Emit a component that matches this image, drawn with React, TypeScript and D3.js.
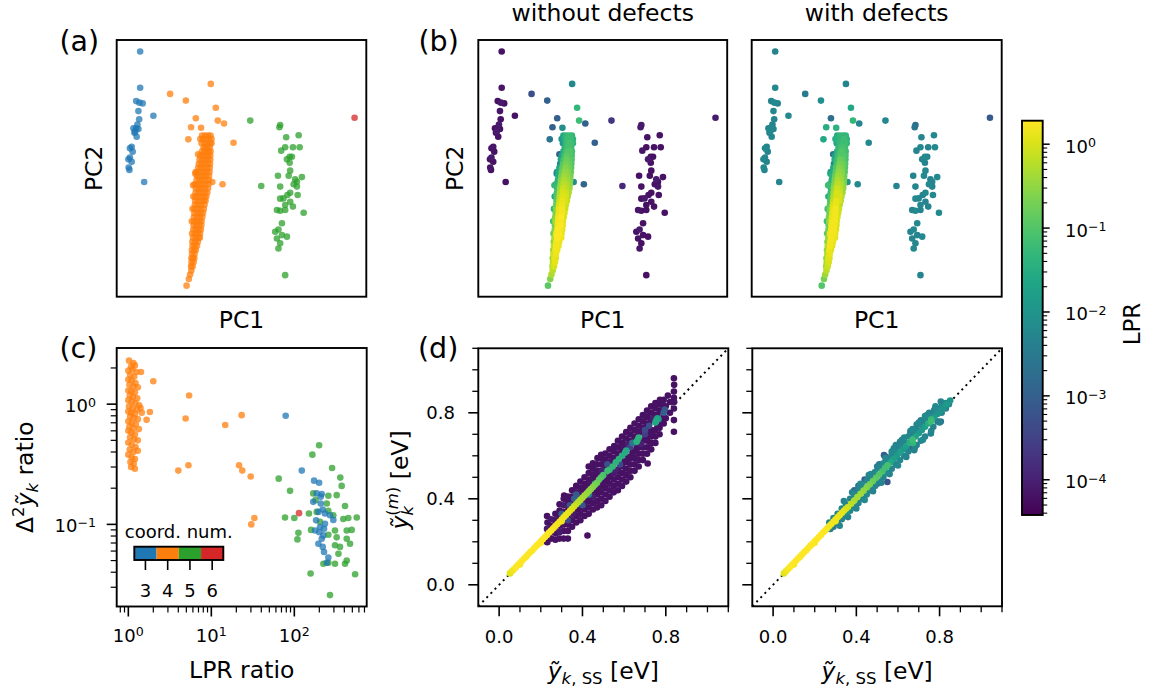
import React from "react";
import * as d3 from "d3";

// ---------------- DATA ----------------
// PCA map: [PC1, PC2, log10 LPR (without defects), log10 LPR (with defects)]
const pcCN3: number[][] = [
  [9.4, 95.5, -4.2, -2.3], [9.4, 81.4, -4.15, -2.25], [7.8, 76.2, -4.2, -2.3], [9.1, 75.6, -4.1, -2.2],
  [10.4, 75.3, -4.2, -2.3], [8.7, 72.3, -4.15, -2.25], [9.0, 69.1, -4.2, -2.3], [8.3, 67.1, -4.1, -2.3],
  [14.7, 70.5, -4.2, -2.2], [6.7, 65.6, -4.2, -2.3], [7.8, 65.6, -4.15, -2.25], [8.7, 65.3, -4.2, -2.3],
  [7.4, 64.3, -4.1, -2.2], [7.1, 63.9, -4.2, -2.3], [8.0, 62.3, -4.2, -2.25], [6.0, 58.4, -4.15, -2.3],
  [5.3, 57.8, -4.2, -2.2], [6.4, 56.5, -4.2, -2.3], [5.3, 54.2, -4.1, -2.3], [4.7, 53.5, -4.2, -2.25],
  [6.0, 52.6, -4.2, -2.3], [4.8, 50.3, -4.15, -2.2], [5.1, 49.4, -4.2, -2.3], [11.0, 44.7, -4.2, -2.3],
];
const pcCN4Scatter: number[][] = [
  [21.4, 79.0, -3.3, -2.5], [27.7, 76.4, -3.0, -2.1], [37.7, 82.9, -2.2, -2.3], [39.7, 73.6, -1.3, -1.6],
  [31.7, 69.5, -3.0, -2.7], [40.5, 68.6, -1.2, -1.3], [43.0, 67.5, -3.0, -2.3], [29.8, 66.0, -3.0, -1.5],
  [33.8, 65.8, -2.1, -1.4], [46.8, 60.0, -3.0, -2.2], [42.4, 43.8, -2.9, -2.2], [28.7, 61.3, -2.6, -1.6],
  [32.6, 55.5, -3.0, -2.6], [38.3, 44.7, -2.2, -2.0], [31.5, 47.9, -2.0, -1.6], [30.6, 43.4, -1.3, -1.2],
];
const pcCN4Wedge: number[][] = [
  [28.0, 4.3, -0.9, -1.0], [28.9, 6.9, -0.6, -0.7], [29.4, 8.6, -0.3, -0.4], [29.9, 10.2, -0.2, -0.2],
  [29.8, 11.8, -0.3, -0.4], [30.4, 11.8, 0.0, -0.1],
  [30.0, 13.4, -0.2, -0.3], [30.8, 13.4, 0.1, 0.0],
  [29.9, 15, -0.5, -0.6], [30.6, 15, 0.1, 0.05], [31.1, 15, 0.0, 0.0],
  [30.2, 16.6, -0.1, -0.2], [31.2, 16.6, 0.15, 0.1],
  [30.1, 18.2, -0.4, -0.5], [31.0, 18.2, 0.2, 0.15], [31.7, 18.2, 0.1, 0.05],
  [30.4, 19.8, -0.2, -0.3], [31.3, 19.8, 0.2, 0.2], [32.2, 19.8, 0.1, 0.05],
  [30.3, 21.4, -0.5, -0.6], [31.4, 21.4, 0.2, 0.2], [32.5, 21.4, 0.15, 0.1],
  [30.6, 23, -0.3, -0.4], [31.7, 23, 0.25, 0.2], [32.9, 23, 0.2, 0.15], [33.3, 23, 0.05, 0.0],
  [30.2, 24.6, -0.8, -0.9], [31.3, 24.6, 0.2, 0.15], [32.4, 24.6, 0.25, 0.2], [33.4, 24.6, 0.1, 0.1],
  [30.7, 26.2, -0.6, -0.7], [31.8, 26.2, 0.25, 0.2], [32.9, 26.2, 0.2, 0.2], [33.7, 26.2, 0.05, 0.0],
  [30.8, 27.8, -0.7, -0.8], [31.9, 27.8, 0.2, 0.2], [33.0, 27.8, 0.25, 0.2], [33.9, 27.8, 0.1, 0.0],
  [30.1, 29.4, -1.1, -1.2], [31.0, 29.4, -0.4, -0.5], [32.1, 29.4, 0.2, 0.15], [33.2, 29.4, 0.2, 0.2], [34.0, 29.4, 0.05, 0.0],
  [30.9, 31, -0.6, -0.7], [32.1, 31, 0.15, 0.1], [33.3, 31, 0.25, 0.2], [34.3, 31, 0.0, 0.0],
  [31.1, 32.6, -0.7, -0.8], [32.3, 32.6, 0.1, 0.1], [33.5, 32.6, 0.2, 0.2], [34.6, 32.6, 0.0, -0.1],
  [30.4, 34.2, -1.3, -1.2], [31.2, 34.2, -0.6, -0.7], [32.4, 34.2, 0.1, 0.05], [33.6, 34.2, 0.2, 0.2], [34.9, 34.2, -0.1, -0.1],
  [31.3, 35.8, -0.8, -0.9], [32.5, 35.8, 0.0, 0.0], [33.7, 35.8, 0.15, 0.1], [35.2, 35.8, -0.1, -0.2],
  [31.4, 37.4, -0.9, -1.0], [32.6, 37.4, -0.1, -0.2], [33.8, 37.4, 0.1, 0.1], [35.0, 37.4, 0.0, 0.0], [35.6, 37.4, -0.2, -0.3],
  [30.7, 39, -1.6, -1.5], [31.5, 39, -1.0, -1.1], [32.7, 39, -0.2, -0.3], [33.9, 39, 0.05, 0.0], [35.1, 39, 0.0, 0.0], [35.9, 39, -0.3, -0.3],
  [31.6, 40.6, -1.1, -1.2], [32.8, 40.6, -0.3, -0.4], [34.0, 40.6, 0.0, 0.0], [35.2, 40.6, -0.1, -0.1], [36.3, 40.6, -0.3, -0.4],
  [31.7, 42.2, -1.2, -1.3], [32.9, 42.2, -0.4, -0.5], [34.1, 42.2, -0.1, -0.1], [35.3, 42.2, -0.2, -0.2], [36.6, 42.2, -0.4, -0.5],
  [31.2, 43.8, -1.8, -1.6], [31.9, 43.8, -1.3, -1.3], [33.1, 43.8, -0.5, -0.6], [34.3, 43.8, -0.2, -0.2], [35.5, 43.8, -0.3, -0.3], [36.8, 43.8, -0.5, -0.6],
  [32.0, 45.4, -1.4, -1.4], [33.2, 45.4, -0.6, -0.7], [34.4, 45.4, -0.3, -0.3], [35.6, 45.4, -0.4, -0.4], [36.9, 45.4, -0.6, -0.7],
  [32.2, 47, -1.5, -1.4], [33.4, 47, -0.7, -0.8], [34.6, 47, -0.4, -0.4], [35.8, 47, -0.5, -0.5], [37.0, 47, -0.7, -0.8],
  [31.6, 48.6, -2.0, -1.8], [32.4, 48.6, -1.5, -1.5], [33.6, 48.6, -0.8, -0.9], [34.8, 48.6, -0.5, -0.5], [36.0, 48.6, -0.6, -0.6], [37.2, 48.6, -0.8, -0.9],
  [32.6, 50.2, -1.6, -1.5], [33.8, 50.2, -0.9, -1.0], [35.0, 50.2, -0.6, -0.6], [36.2, 50.2, -0.7, -0.7], [37.3, 50.2, -0.9, -1.0],
  [32.9, 51.8, -2.2, -2.3], [34.0, 51.8, -1.0, -1.1], [35.2, 51.8, -0.7, -0.7], [36.4, 51.8, -0.8, -0.8], [37.4, 51.8, -1.0, -1.0],
  [33.2, 53.4, -1.7, -1.6], [34.3, 53.4, -1.1, -1.2], [35.4, 53.4, -0.8, -0.8], [36.5, 53.4, -0.9, -0.9], [37.5, 53.4, -1.0, -1.1],
  [33.5, 55, -1.8, -1.7], [34.6, 55, -1.2, -1.2], [35.6, 55, -0.9, -1.0], [36.6, 55, -1.0, -1.0], [37.5, 55, -1.1, -1.1],
  [34.2, 56.6, -1.6, -1.5], [35.1, 56.6, -1.2, -1.2], [36.0, 56.6, -1.0, -1.0], [36.9, 56.6, -1.0, -1.1], [37.6, 56.6, -1.2, -1.2],
  [34.8, 58.2, -1.5, -1.4], [35.6, 58.2, -1.2, -1.2], [36.4, 58.2, -1.1, -1.1], [37.3, 58.2, -1.2, -1.2],
  [34.0, 59.8, -1.9, -1.6], [35.2, 59.8, -1.3, -1.3], [36.3, 59.8, -1.1, -1.2], [37.4, 59.8, -1.2, -1.2], [38.0, 59.8, -1.4, -1.4],
  [33.5, 61.4, -2.0, -1.5], [34.6, 61.4, -1.5, -1.4], [35.8, 61.4, -1.2, -1.3], [37.0, 61.4, -1.2, -1.2], [38.0, 61.4, -1.4, -1.4],
  [34.2, 62.8, -1.6, -1.5], [35.4, 62.8, -1.3, -1.3], [36.6, 62.8, -1.2, -1.3], [37.6, 62.8, -1.3, -1.3],
];
const pcCN5: number[][] = [
  [53.5, 68.6, -3.7, -2.2], [57.9, 43.1, -3.9, -2.3], [65.5, 66.9, -4.1, -2.7], [65.2, 66.0, -4.1, -2.6],
  [72.9, 62.9, -4.2, -2.2], [67.9, 62.1, -4.2, -2.3], [67.5, 58.2, -4.2, -2.2], [70.6, 58.2, -4.2, -2.3],
  [73.3, 58.2, -4.2, -2.2], [65.9, 56.9, -4.15, -2.3], [69.3, 54.5, -4.2, -2.2], [70.2, 54.5, -4.2, -2.3],
  [68.2, 53.5, -4.1, -2.25], [69.3, 52.2, -4.2, -2.3], [69.5, 49.1, -4.2, -2.2], [64.6, 47.1, -4.2, -2.3],
  [68.9, 47.1, -4.2, -2.2], [71.5, 45.7, -4.1, -2.3], [74.2, 46.6, -4.2, -2.2], [72.2, 44.8, -4.2, -2.3],
  [65.5, 42.9, -4.2, -2.25], [70.9, 43.8, -4.2, -2.2], [72.2, 42.9, -4.15, -2.3], [69.5, 40.5, -4.2, -2.2],
  [68.4, 39.6, -4.2, -2.3], [72.5, 39.6, -4.2, -2.2], [66.8, 38.3, -4.1, -2.3], [65.5, 38.2, -4.2, -2.2],
  [69.5, 37.0, -4.2, -2.3], [67.5, 35.7, -4.2, -2.2], [70.6, 35.1, -4.2, -2.3], [74.9, 32.7, -4.2, -2.2],
  [64.2, 33.8, -4.15, -2.3], [65.5, 33.5, -4.2, -2.2], [67.5, 33.8, -4.2, -2.3], [66.2, 28.6, -4.2, -2.25],
  [63.5, 25.3, -4.2, -2.3], [64.8, 26.2, -4.1, -2.2], [66.2, 24.0, -4.2, -2.3], [68.2, 23.4, -4.2, -2.2],
  [64.2, 22.7, -4.2, -2.3], [65.5, 20.8, -4.2, -2.25], [64.8, 18.8, -4.15, -2.2], [67.5, 8.4, -4.2, -2.3],
];
const pcCN6: number[][] = [[95.3, 69.7, -4.1, -3.1]];

// Panel (c): [LPR ratio, Δ²ỹ ratio]
const ratioCN3: number[][] = [
  [78.7, 0.80], [123, 0.28], [173, 0.231], [199, 0.222], [186, 0.181], [214, 0.179], [208, 0.17], [169, 0.154],
  [208, 0.149], [220, 0.133], [195, 0.127], [234, 0.123], [183, 0.108], [204, 0.095], [228, 0.092], [200, 0.086],
  [224, 0.081], [214, 0.076], [195, 0.069], [220, 0.065], [228, 0.059], [257, 0.053], [246, 0.048], [295, 0.109],
  [269, 0.119], [178, 0.089], [234, 0.101],
];
const ratioCN4: number[][] = [
  [2.0, 1.55], [5.4, 1.18], [4.9, 0.76], [1.82, 0.86], [1.66, 0.74], [14.7, 0.67], [23.2, 0.81], [4.0, 0.28],
  [5.3, 0.31], [21.6, 0.31], [23.6, 0.28], [29.8, 0.25], [30.3, 0.10], [33, 0.113],
  [1.02, 2.3], [1.15, 2.2], [1.08, 2.05], [1.2, 2.1], [1.0, 1.9], [1.12, 1.95], [1.25, 1.85], [1.42, 1.85],
  [1.05, 1.75], [1.18, 1.7], [1.0, 1.6], [1.1, 1.58], [1.22, 1.5], [1.03, 1.45], [1.15, 1.4], [1.3, 1.38],
  [1.0, 1.3], [1.09, 1.28], [1.2, 1.25], [1.04, 1.18], [1.14, 1.15], [1.28, 1.12], [1.0, 1.08], [1.1, 1.05],
  [1.22, 1.02], [1.35, 0.98], [1.02, 0.96], [1.13, 0.93], [1.27, 0.9], [1.0, 0.87], [1.08, 0.85], [1.2, 0.83],
  [1.4, 0.93], [1.05, 0.79], [1.16, 0.77], [1.3, 0.75], [1.0, 0.72], [1.1, 0.7], [1.23, 0.68], [1.03, 0.65],
  [1.15, 0.63], [1.34, 0.62], [1.0, 0.6], [1.09, 0.58], [1.2, 0.56], [1.05, 0.53], [1.17, 0.51], [1.3, 0.5],
  [1.0, 0.48], [1.1, 0.46], [1.22, 0.44], [1.04, 0.42], [1.15, 0.4], [1.3, 0.41], [1.0, 0.38], [1.1, 0.36],
  [1.2, 0.35], [1.06, 0.33], [1.16, 0.32], [1.08, 0.3], [1.2, 0.29], [1.45, 0.85],
];
const ratioCN5: number[][] = [
  [64.9, 0.24], [88.8, 0.19], [165, 0.38], [199, 0.455], [285, 0.294], [358, 0.245], [372, 0.209], [169, 0.181],
  [180, 0.159], [257, 0.173], [324, 0.175], [408, 0.142], [77.3, 0.114], [100, 0.113], [150, 0.123], [186, 0.127],
  [257, 0.13], [389, 0.111], [447, 0.113], [565, 0.114], [112, 0.085], [159, 0.09], [109, 0.075], [309, 0.089],
  [428, 0.089], [491, 0.09], [324, 0.078], [428, 0.076], [309, 0.067], [355, 0.065], [340, 0.057], [257, 0.048],
  [224, 0.047], [309, 0.047], [408, 0.047], [428, 0.05], [540, 0.0385], [157, 0.039], [269, 0.0258], [469, 0.069],
  [246, 0.149], [295, 0.119], [204, 0.105], [257, 0.082],
];
const ratioCN6: number[][] = [[114, 0.124]];

// Panel (d): [ỹ_k,SS (eV), ỹ_k^(m) (eV), log10 LPR]
const dStreak: number[][] = [
  [0.052, 0.053, 0.05], [0.06, 0.062, 0.15], [0.07, 0.071, 0.2], [0.08, 0.081, 0.25], [0.09, 0.092, 0.25],
  [0.10, 0.101, 0.25], [0.11, 0.112, 0.28], [0.12, 0.122, 0.28], [0.13, 0.131, 0.25], [0.14, 0.142, 0.28],
  [0.15, 0.152, 0.28], [0.16, 0.161, 0.25], [0.17, 0.172, 0.28], [0.18, 0.182, 0.28], [0.19, 0.191, 0.25],
  [0.20, 0.202, 0.28], [0.21, 0.212, 0.25], [0.22, 0.222, 0.28], [0.23, 0.232, 0.25], [0.24, 0.243, 0.28],
  [0.25, 0.252, 0.25], [0.26, 0.263, 0.22], [0.27, 0.273, 0.22], [0.28, 0.283, 0.2], [0.29, 0.293, 0.2],
  [0.30, 0.303, 0.18], [0.31, 0.314, 0.15], [0.32, 0.324, 0.12], [0.33, 0.334, 0.1], [0.34, 0.344, 0.05],
  [0.35, 0.354, 0.0], [0.10, 0.095, 0.2], [0.20, 0.196, 0.22], [0.30, 0.296, 0.1],
];
const dNoDefects: number[][] = [
  [0.23, 0.20, -4.2], [0.235, 0.23, -4.2], [0.23, 0.26, -4.1], [0.232, 0.29, -4.2], [0.23, 0.32, -4.2],
  [0.25, 0.215, -4.2], [0.252, 0.245, -4.2], [0.25, 0.275, -4.2], [0.25, 0.305, -4.1],
  [0.27, 0.21, -4.2], [0.272, 0.24, -4.2], [0.27, 0.27, -4.2], [0.268, 0.30, -4.2], [0.27, 0.33, -4.2],
  [0.29, 0.215, -4.2], [0.29, 0.245, -4.1], [0.292, 0.275, -4.2], [0.29, 0.315, -4.2], [0.29, 0.345, -4.2], [0.29, 0.375, -4.2],
  [0.31, 0.215, -4.2], [0.31, 0.25, -4.2], [0.312, 0.28, -4.2], [0.31, 0.34, -4.2], [0.31, 0.37, -4.1], [0.31, 0.40, -4.2], [0.312, 0.415, -4.2],
  [0.33, 0.215, -4.2], [0.33, 0.25, -4.2], [0.33, 0.28, -4.2], [0.33, 0.31, -4.2], [0.332, 0.36, -4.2], [0.33, 0.39, -4.2], [0.33, 0.41, -4.2],
  [0.35, 0.27, -4.2], [0.35, 0.30, -4.2], [0.352, 0.33, -4.1], [0.35, 0.38, -4.2], [0.35, 0.41, -4.2], [0.35, 0.44, -4.2],
  [0.37, 0.29, -4.2], [0.37, 0.32, -4.2], [0.37, 0.35, -4.2], [0.372, 0.40, -4.2], [0.37, 0.43, -4.2], [0.37, 0.46, -4.2],
  [0.39, 0.30, -4.2], [0.39, 0.33, -4.2], [0.39, 0.36, -4.2], [0.39, 0.42, -4.1], [0.392, 0.45, -4.2], [0.39, 0.48, -4.2],
  [0.41, 0.32, -4.2], [0.41, 0.35, -4.2], [0.41, 0.38, -4.2], [0.41, 0.44, -4.2], [0.41, 0.47, -4.2], [0.41, 0.50, -4.2],
  [0.43, 0.33, -4.2], [0.43, 0.36, -4.2], [0.432, 0.39, -4.2], [0.43, 0.46, -4.2], [0.43, 0.49, -4.2], [0.43, 0.52, -4.2], [0.43, 0.55, -4.2],
  [0.45, 0.35, -4.2], [0.45, 0.38, -4.2], [0.45, 0.41, -4.1], [0.452, 0.48, -4.2], [0.45, 0.51, -4.2], [0.45, 0.54, -4.2], [0.45, 0.565, -4.2],
  [0.47, 0.36, -4.2], [0.47, 0.39, -4.2], [0.47, 0.42, -4.2], [0.47, 0.44, -4.2], [0.47, 0.50, -4.2], [0.47, 0.53, -4.2], [0.47, 0.56, -4.2], [0.472, 0.59, -4.2],
  [0.49, 0.37, -4.2], [0.49, 0.40, -4.2], [0.49, 0.43, -4.2], [0.49, 0.46, -4.2], [0.49, 0.53, -4.1], [0.49, 0.56, -4.2], [0.49, 0.59, -4.2], [0.49, 0.605, -4.2],
  [0.51, 0.39, -4.2], [0.51, 0.42, -4.2], [0.51, 0.45, -4.2], [0.51, 0.48, -4.2], [0.51, 0.55, -4.2], [0.51, 0.58, -4.2], [0.51, 0.61, -4.2],
  [0.53, 0.41, -4.2], [0.53, 0.44, -4.2], [0.53, 0.47, -4.2], [0.53, 0.50, -4.2], [0.53, 0.57, -4.2], [0.53, 0.60, -4.2], [0.53, 0.63, -4.2],
  [0.55, 0.43, -4.2], [0.55, 0.46, -4.2], [0.55, 0.49, -4.2], [0.55, 0.52, -4.1], [0.55, 0.59, -4.2], [0.55, 0.62, -4.2], [0.552, 0.645, -4.2],
  [0.57, 0.44, -4.2], [0.57, 0.47, -4.2], [0.57, 0.50, -4.2], [0.57, 0.53, -4.2], [0.57, 0.61, -4.2], [0.57, 0.64, -4.2], [0.57, 0.67, -4.2],
  [0.59, 0.46, -4.2], [0.59, 0.49, -4.2], [0.59, 0.52, -4.2], [0.59, 0.55, -4.2], [0.59, 0.63, -4.2], [0.59, 0.66, -4.2], [0.59, 0.69, -4.2],
  [0.61, 0.48, -4.2], [0.61, 0.51, -4.2], [0.61, 0.54, -4.2], [0.61, 0.57, -4.2], [0.61, 0.65, -4.2], [0.61, 0.68, -4.2], [0.61, 0.71, -4.2],
  [0.63, 0.50, -4.2], [0.63, 0.53, -4.2], [0.63, 0.56, -4.2], [0.63, 0.59, -4.2], [0.63, 0.67, -4.2], [0.63, 0.70, -4.2], [0.63, 0.73, -4.2],
  [0.65, 0.53, -4.2], [0.65, 0.56, -4.2], [0.65, 0.59, -4.2], [0.65, 0.62, -4.2], [0.65, 0.69, -4.2], [0.65, 0.72, -4.2], [0.65, 0.75, -4.2],
  [0.67, 0.55, -4.2], [0.67, 0.58, -4.2], [0.67, 0.61, -4.2], [0.67, 0.64, -4.2], [0.67, 0.71, -4.2], [0.67, 0.74, -4.2], [0.67, 0.77, -4.2],
  [0.69, 0.58, -4.2], [0.69, 0.61, -4.2], [0.69, 0.64, -4.2], [0.69, 0.67, -4.2], [0.69, 0.73, -4.2], [0.69, 0.76, -4.2], [0.69, 0.79, -4.2],
  [0.713, 0.564, -4.2], [0.71, 0.61, -4.2], [0.71, 0.64, -4.2], [0.71, 0.67, -4.2], [0.71, 0.70, -4.2], [0.71, 0.75, -4.2], [0.71, 0.78, -4.2], [0.71, 0.81, -4.2],
  [0.73, 0.63, -4.2], [0.73, 0.66, -4.2], [0.73, 0.69, -4.2], [0.73, 0.72, -4.2], [0.73, 0.77, -4.2], [0.73, 0.80, -4.2], [0.73, 0.83, -4.2],
  [0.75, 0.66, -4.2], [0.75, 0.69, -4.2], [0.75, 0.72, -4.2], [0.75, 0.79, -4.2], [0.75, 0.82, -4.2], [0.75, 0.845, -4.2],
  [0.77, 0.70, -4.2], [0.77, 0.73, -4.2], [0.77, 0.81, -4.2], [0.77, 0.84, -4.2], [0.772, 0.86, -4.2],
  [0.79, 0.75, -4.2], [0.79, 0.78, -4.2], [0.79, 0.83, -4.2], [0.79, 0.86, -4.2],
  [0.839, 0.712, -4.2], [0.839, 0.766, -4.2], [0.839, 0.82, -4.2], [0.84, 0.85, -4.2], [0.839, 0.87, -4.2], [0.839, 0.899, -4.2], [0.84, 0.93, -4.2], [0.839, 0.961, -4.2],
  [0.424, 0.229, -4.2], [0.231, 0.198, -4.2],
  [0.36, 0.335, -4.2], [0.36, 0.39, -4.2], [0.38, 0.355, -4.2], [0.38, 0.41, -4.0], [0.40, 0.375, -4.2], [0.40, 0.43, -4.2],
  [0.42, 0.395, -4.2], [0.42, 0.45, -4.2], [0.44, 0.415, -4.0], [0.44, 0.47, -4.2], [0.46, 0.435, -4.2], [0.46, 0.49, -4.2],
  [0.48, 0.455, -4.2], [0.48, 0.51, -4.2], [0.50, 0.475, -4.2], [0.50, 0.53, -4.0], [0.52, 0.495, -4.2], [0.52, 0.55, -4.2],
  [0.54, 0.515, -4.2], [0.54, 0.57, -4.2], [0.56, 0.535, -4.0], [0.56, 0.59, -4.2], [0.58, 0.555, -4.2], [0.58, 0.61, -4.2],
  [0.60, 0.575, -4.2], [0.60, 0.63, -4.2], [0.62, 0.595, -4.2], [0.62, 0.65, -4.0], [0.64, 0.615, -4.2], [0.64, 0.67, -4.2],
  [0.66, 0.635, -4.2], [0.66, 0.69, -4.2], [0.68, 0.655, -4.0], [0.68, 0.71, -4.2], [0.70, 0.675, -4.2], [0.70, 0.73, -4.2],
  [0.72, 0.695, -4.2], [0.72, 0.75, -4.2], [0.74, 0.715, -4.2], [0.74, 0.77, -4.0], [0.76, 0.735, -4.2], [0.76, 0.79, -4.2],
  [0.78, 0.755, -4.2], [0.78, 0.81, -4.2], [0.80, 0.775, -4.2], [0.80, 0.83, -4.2], [0.82, 0.80, -4.2], [0.82, 0.85, -4.2], [0.81, 0.88, -4.2],
  [0.36, 0.365, -0.1], [0.37, 0.375, -0.2], [0.38, 0.385, -0.25], [0.39, 0.395, -0.3], [0.40, 0.405, -0.35],
  [0.41, 0.415, -0.4], [0.42, 0.425, -0.45], [0.43, 0.435, -0.5], [0.44, 0.445, -0.55], [0.45, 0.455, -0.6],
  [0.46, 0.465, -0.7], [0.47, 0.475, -0.8], [0.48, 0.49, -0.9], [0.49, 0.50, -1.0], [0.50, 0.51, -1.1],
  [0.52, 0.53, -1.2], [0.53, 0.535, -1.3], [0.545, 0.55, -1.3], [0.56, 0.57, -1.4], [0.575, 0.585, -1.4],
  [0.59, 0.60, -1.5], [0.605, 0.615, -1.5], [0.61, 0.625, -1.6], [0.66, 0.665, -1.4], [0.665, 0.675, -1.5],
  [0.67, 0.685, -1.4], [0.75, 0.755, -1.6], [0.755, 0.765, -1.6], [0.76, 0.775, -1.7], [0.765, 0.77, -2.0],
  [0.79, 0.80, -3.0], [0.795, 0.815, -3.2],
  [0.37, 0.42, -3.1], [0.36, 0.40, -3.0], [0.40, 0.37, -3.2], [0.52, 0.56, -3.3], [0.58, 0.56, -3.4],
  [0.63, 0.64, -3.5], [0.70, 0.72, -3.4], [0.72, 0.74, -3.3], [0.64, 0.66, -2.6], [0.70, 0.70, -3.6],
  [0.43, 0.42, -2.4], [0.46, 0.47, -2.0], [0.30, 0.33, -3.0], [0.34, 0.37, -3.2], [0.33, 0.30, -3.4],
];
const dWithDefects: number[][] = [
  [0.27, 0.29, -2.3], [0.275, 0.26, -2.4], [0.29, 0.31, -2.2], [0.29, 0.27, -2.5], [0.31, 0.33, -2.3], [0.31, 0.285, -2.4],
  [0.33, 0.355, -2.2], [0.33, 0.305, -2.3], [0.35, 0.375, -2.4], [0.35, 0.32, -2.3], [0.352, 0.34, -2.0],
  [0.37, 0.40, -2.3], [0.37, 0.345, -2.2], [0.39, 0.42, -2.2], [0.39, 0.36, -2.4], [0.39, 0.44, -2.9],
  [0.41, 0.445, -2.3], [0.41, 0.38, -2.3], [0.41, 0.46, -2.6], [0.43, 0.46, -2.2], [0.43, 0.40, -2.4],
  [0.45, 0.485, -2.3], [0.45, 0.42, -2.2], [0.47, 0.50, -2.4], [0.47, 0.44, -2.3], [0.47, 0.515, -2.2],
  [0.49, 0.525, -2.2], [0.49, 0.46, -2.3], [0.51, 0.545, -2.3], [0.51, 0.48, -2.4], [0.51, 0.56, -2.5],
  [0.53, 0.565, -2.2], [0.533, 0.603, -3.0], [0.53, 0.50, -2.3], [0.549, 0.478, -3.2], [0.55, 0.585, -2.4],
  [0.55, 0.52, -2.2], [0.541, 0.595, -3.1], [0.57, 0.605, -2.3], [0.57, 0.54, -2.3], [0.57, 0.62, -2.2],
  [0.59, 0.625, -2.2], [0.59, 0.56, -2.4], [0.59, 0.65, -2.3], [0.61, 0.645, -2.3], [0.61, 0.58, -2.2], [0.61, 0.665, -2.4],
  [0.63, 0.665, -2.4], [0.63, 0.60, -2.3], [0.63, 0.685, -2.2], [0.65, 0.69, -2.2], [0.65, 0.62, -2.3], [0.66, 0.705, -2.3],
  [0.67, 0.705, -2.3], [0.678, 0.626, -2.4], [0.67, 0.725, -2.2], [0.69, 0.72, -2.4], [0.69, 0.65, -2.3], [0.69, 0.745, -2.3],
  [0.71, 0.745, -2.2], [0.71, 0.67, -2.2], [0.71, 0.765, -2.4], [0.73, 0.765, -2.3], [0.73, 0.69, -2.3], [0.73, 0.785, -2.2],
  [0.75, 0.785, -2.2], [0.758, 0.704, -2.4], [0.75, 0.80, -2.3], [0.77, 0.79, -2.4], [0.774, 0.813, -2.3], [0.77, 0.735, -2.3],
  [0.79, 0.82, -2.2], [0.79, 0.76, -2.4], [0.806, 0.852, -2.3], [0.806, 0.759, -2.5], [0.81, 0.80, -2.3], [0.81, 0.83, -2.2],
  [0.83, 0.845, -2.2], [0.83, 0.82, -2.4], [0.851, 0.857, -2.0], [0.845, 0.84, -2.2],
  [0.40, 0.42, -3.0], [0.45, 0.44, -3.1],
  [0.32, 0.275, -2.3], [0.36, 0.315, -2.4], [0.40, 0.355, -2.3], [0.44, 0.395, -2.2], [0.48, 0.435, -2.4], [0.52, 0.475, -2.3],
  [0.56, 0.515, -2.3], [0.60, 0.555, -2.2], [0.64, 0.595, -2.4], [0.68, 0.635, -2.3], [0.72, 0.675, -2.2], [0.76, 0.715, -2.3], [0.80, 0.755, -2.4],
  [0.34, 0.39, -2.3], [0.38, 0.43, -2.4], [0.42, 0.47, -2.2], [0.46, 0.51, -2.3], [0.50, 0.55, -2.4], [0.54, 0.59, -2.2],
  [0.58, 0.635, -2.3], [0.62, 0.675, -2.3], [0.66, 0.715, -2.4], [0.70, 0.755, -2.2], [0.74, 0.79, -2.3], [0.78, 0.83, -2.2],
  [0.44, 0.49, -3.0], [0.58, 0.62, -2.9], [0.66, 0.64, -2.9], [0.72, 0.76, -3.0], [0.50, 0.47, -2.9],
  [0.36, 0.362, -0.1], [0.375, 0.377, -0.2], [0.39, 0.392, -0.3], [0.405, 0.408, -0.35], [0.42, 0.423, -0.4],
  [0.435, 0.438, -0.5], [0.45, 0.453, -0.6], [0.465, 0.468, -0.7], [0.48, 0.483, -0.8], [0.495, 0.498, -0.9],
  [0.51, 0.513, -1.0], [0.525, 0.528, -1.1], [0.54, 0.545, -1.2], [0.55, 0.556, -1.1], [0.565, 0.57, -1.6],
  [0.58, 0.585, -1.8], [0.595, 0.6, -1.9], [0.61, 0.615, -1.8], [0.625, 0.63, -1.9], [0.64, 0.645, -1.8],
  [0.655, 0.66, -1.5], [0.67, 0.675, -1.2], [0.672, 0.66, -1.3], [0.685, 0.69, -1.7], [0.70, 0.705, -1.9],
  [0.715, 0.72, -1.9], [0.73, 0.735, -1.8], [0.745, 0.75, -1.5], [0.758, 0.759, -1.2], [0.76, 0.77, -1.3],
  [0.775, 0.78, -1.9], [0.79, 0.795, -2.0], [0.805, 0.81, -2.0], [0.82, 0.825, -2.0], [0.835, 0.84, -1.9],
];

const coordNums = [3, 4, 5, 6];
const cbExponents = [-4, -3, -2, -1, 0];
const dMajorTicks = [0, 0.4, 0.8];
const dMinorTicks = [0.1, 0.2, 0.3, 0.5, 0.6, 0.7, 0.9, 1.0, 1.1];
const cMajorX = [1, 10, 100];
const cMajorY = [0.1, 1];

// ---------------- STYLE ----------------
const FONT = "'DejaVu Sans', 'Liberation Sans', sans-serif";
const TAB: Record<number, string> = { 3: "#1f77b4", 4: "#ff7f0e", 5: "#2ca02c", 6: "#d62728" };
const LOG_MIN = -4.42;
const LOG_MAX = 0.28;
const vir = (l: number) => d3.interpolateViridis((l - LOG_MIN) / (LOG_MAX - LOG_MIN));
const R = 3.3;
const LW = 1.9;

const sup = (e: number) => (e < 0 ? "\u2212" + Math.abs(e) : String(e));

function minorLog(lo: number, hi: number) {
  const out: number[] = [];
  for (let e = -6; e <= 3; e++) for (let k = 2; k <= 9; k++) {
    const v = k * Math.pow(10, e);
    if (v >= lo && v <= hi) out.push(v);
  }
  return out;
}

export default function App() {
  const A = { x0: 116.7, x1: 366.3, y0: 40, y1: 296.7 };
  const B1 = { x0: 478.3, x1: 727.2, y0: 40, y1: 296.7 };
  const B2 = { x0: 751.7, x1: 1001.7, y0: 40, y1: 296.7 };
  const C = { x0: 116.7, x1: 366.7, y0: 348, y1: 606.5 };
  const D1 = { x0: 478.3, x1: 728.3, y0: 348.3, y1: 606.3 };
  const D2 = { x0: 752.3, x1: 1002, y0: 348.3, y1: 606.3 };
  const CB = { x0: 1022, x1: 1042.7, y0: 120.7, y1: 515 };

  const pcAll = [
    ...pcCN3.map((p) => ({ p, cn: 3 })),
    ...pcCN4Scatter.map((p) => ({ p, cn: 4 })),
    ...pcCN4Wedge.map((p) => ({ p, cn: 4 })),
    ...pcCN5.map((p) => ({ p, cn: 5 })),
    ...pcCN6.map((p) => ({ p, cn: 6 })),
  ];

  const pcScales = (P: typeof A) => ({
    x: d3.scaleLinear().domain([0, 100]).range([P.x0, P.x1]),
    y: d3.scaleLinear().domain([0, 100]).range([P.y1, P.y0]),
  });
  const sA = pcScales(A), sB1 = pcScales(B1), sB2 = pcScales(B2);

  const xC = d3.scaleLog().domain([Math.pow(10, -0.14), Math.pow(10, 2.872)]).range([C.x0, C.x1]);
  const yC = d3.scaleLog().domain([Math.pow(10, -1.683), Math.pow(10, 0.467)]).range([C.y1, C.y0]);

  const dx1 = d3.scaleLinear().domain([-0.1, 1.1]).range([D1.x0, D1.x1]);
  const dx2 = d3.scaleLinear().domain([-0.1, 1.1]).range([D2.x0, D2.x1]);
  const dy = d3.scaleLinear().domain([-0.1, 1.1]).range([D1.y1, D1.y0]);

  const cbY = d3.scaleLinear().domain([LOG_MIN, LOG_MAX]).range([CB.y1, CB.y0]);

  const frame = (P: { x0: number; x1: number; y0: number; y1: number }) => (
    <rect x={P.x0} y={P.y0} width={P.x1 - P.x0} height={P.y1 - P.y0} fill="none" stroke="#000" strokeWidth={LW} />
  );

  const sortedB = (idx: number) => [...pcAll].sort((a, b) => a.p[idx] - b.p[idx]);

  const dPoints1 = [...dStreak, ...dNoDefects].sort((a, b) => a[2] - b[2]);
  const dPoints2 = [...dStreak, ...dWithDefects].sort((a, b) => a[2] - b[2]);

  const gradStops = d3.range(0, 1.0001, 0.05);

  const panelLabel = (t: string, x: number, y: number) => (
    <text x={x} y={y} fontSize={28.5}>{t}</text>
  );

  const dPanel = (P: typeof D1, xs: d3.ScaleLinear<number, number>, pts: number[][], showY: boolean) => (
    <g>
      <line x1={xs(-0.1)} y1={dy(-0.1)} x2={xs(1.1)} y2={dy(1.1)} stroke="#000" strokeWidth={2} strokeDasharray="2,3.9" />
      {pts.map((p, i) => (
        <circle key={i} cx={xs(p[0])} cy={dy(p[1])} r={R} fill={vir(p[2])} />
      ))}
      {frame(P)}
      {dMajorTicks.map((t) => (
        <g key={"mx" + t}>
          <line x1={xs(t)} x2={xs(t)} y1={P.y1} y2={P.y1 + 10} stroke="#000" strokeWidth={1.6} />
          <text x={xs(t)} y={643} fontSize={18} textAnchor="middle">{t.toFixed(1)}</text>
          <line x1={P.x0 - 10} x2={P.x0} y1={dy(t)} y2={dy(t)} stroke="#000" strokeWidth={1.6} />
          {showY && <text x={455} y={dy(t) + 6.5} fontSize={18} textAnchor="end">{t.toFixed(1)}</text>}
        </g>
      ))}
      {dMinorTicks.map((t) => (
        <g key={"mn" + t}>
          <line x1={xs(t)} x2={xs(t)} y1={P.y1} y2={P.y1 + 6} stroke="#000" strokeWidth={1.3} />
          <line x1={P.x0 - 6} x2={P.x0} y1={dy(t)} y2={dy(t)} stroke="#000" strokeWidth={1.3} />
        </g>
      ))}
    </g>
  );

  const xLabelD = (cx: number) => (
    <text x={cx} y={679} fontSize={23.5} textAnchor="middle">
      <tspan fontStyle="italic">ỹ</tspan>
      <tspan fontSize={16.5} dy={4.5}><tspan fontStyle="italic">k</tspan>, SS</tspan>
      <tspan dy={-4.5}> [eV]</tspan>
    </text>
  );

  return (
    <div style={{ position: "absolute", left: 0, top: 0 }}>
      <svg width={1151} height={693} viewBox="0 0 1151 693" fontFamily={FONT} style={{ display: "block", background: "#fff" }}>
        <defs>
          <linearGradient id="viridisGrad" x1="0" y1="1" x2="0" y2="0">
            {gradStops.map((t, i) => (
              <stop key={i} offset={t} stopColor={d3.interpolateViridis(t)} />
            ))}
          </linearGradient>
        </defs>

        {/* ---------- (a) ---------- */}
        {pcAll.map((d, i) => (
          <circle key={"a" + i} cx={sA.x(d.p[0])} cy={sA.y(d.p[1])} r={R} fill={TAB[d.cn]} fillOpacity={0.75} />
        ))}
        {frame(A)}
        {panelLabel("(a)", 59.5, 51)}
        <text x={(A.x0 + A.x1) / 2} y={327.7} fontSize={23.5} textAnchor="middle">PC1</text>
        <text transform={`translate(101.7,${(A.y0 + A.y1) / 2}) rotate(-90)`} fontSize={23.5} textAnchor="middle">PC2</text>

        {/* ---------- (b) left ---------- */}
        {sortedB(2).map((d, i) => (
          <circle key={"b1" + i} cx={sB1.x(d.p[0])} cy={sB1.y(d.p[1])} r={R} fill={vir(d.p[2])} />
        ))}
        {frame(B1)}
        {panelLabel("(b)", 418.5, 51)}
        <text x={(B1.x0 + B1.x1) / 2} y={21} fontSize={23.5} textAnchor="middle">without defects</text>
        <text x={(B1.x0 + B1.x1) / 2} y={328} fontSize={23.5} textAnchor="middle">PC1</text>
        <text transform={`translate(463,${(B1.y0 + B1.y1) / 2}) rotate(-90)`} fontSize={23.5} textAnchor="middle">PC2</text>

        {/* ---------- (b) right ---------- */}
        {sortedB(3).map((d, i) => (
          <circle key={"b2" + i} cx={sB2.x(d.p[0])} cy={sB2.y(d.p[1])} r={R} fill={vir(d.p[3])} />
        ))}
        {frame(B2)}
        <text x={(B2.x0 + B2.x1) / 2} y={21} fontSize={23.5} textAnchor="middle">with defects</text>
        <text x={(B2.x0 + B2.x1) / 2} y={328} fontSize={23.5} textAnchor="middle">PC1</text>

        {/* ---------- colorbar ---------- */}
        <rect x={CB.x0} y={CB.y0} width={CB.x1 - CB.x0} height={CB.y1 - CB.y0} fill="url(#viridisGrad)" />
        <rect x={CB.x0} y={CB.y0} width={CB.x1 - CB.x0} height={CB.y1 - CB.y0} fill="none" stroke="#000" strokeWidth={LW} />
        {cbExponents.map((e) => (
          <g key={"cb" + e}>
            <line x1={CB.x1} x2={CB.x1 + 7} y1={cbY(e)} y2={cbY(e)} stroke="#000" strokeWidth={1.5} />
            <text x={1065} y={cbY(e) + 8.5} fontSize={18}>10<tspan dy={-5.5} fontSize={12.6}>{sup(e)}</tspan></text>
          </g>
        ))}
        {minorLog(Math.pow(10, LOG_MIN), Math.pow(10, LOG_MAX)).map((v, i) => (
          <line key={"cbm" + i} x1={CB.x1} x2={CB.x1 + 4.5} y1={cbY(Math.log10(v))} y2={cbY(Math.log10(v))} stroke="#000" strokeWidth={1.1} />
        ))}
        <text transform="translate(1140,324) rotate(-90)" fontSize={23} textAnchor="middle">LPR</text>

        {/* ---------- (c) ---------- */}
        {[
          { pts: ratioCN4, cn: 4 },
          { pts: ratioCN5, cn: 5 },
          { pts: ratioCN3, cn: 3 },
          { pts: ratioCN6, cn: 6 },
        ].map((g) =>
          g.pts.map((p, i) => (
            <circle key={"c" + g.cn + "-" + i} cx={xC(p[0])} cy={yC(p[1])} r={R} fill={TAB[g.cn]} fillOpacity={0.75} />
          ))
        )}
        {frame(C)}
        {cMajorX.map((v) => (
          <g key={"cx" + v}>
            <line x1={xC(v)} x2={xC(v)} y1={C.y1} y2={C.y1 + 10} stroke="#000" strokeWidth={1.6} />
            <text x={xC(v)} y={641.7} fontSize={18} textAnchor="middle">10<tspan dy={-5.5} fontSize={12.6}>{sup(Math.round(Math.log10(v)))}</tspan></text>
          </g>
        ))}
        {minorLog(xC.domain()[0], xC.domain()[1]).map((v, i) => (
          <line key={"cxm" + i} x1={xC(v)} x2={xC(v)} y1={C.y1} y2={C.y1 + 6} stroke="#000" strokeWidth={1.2} />
        ))}
        {cMajorY.map((v) => (
          <g key={"cy" + v}>
            <line x1={C.x0 - 10} x2={C.x0} y1={yC(v)} y2={yC(v)} stroke="#000" strokeWidth={1.6} />
            <text x={96} y={yC(v) + 8} fontSize={18} textAnchor="end">10<tspan dy={-5.5} fontSize={12.6}>{sup(Math.round(Math.log10(v)))}</tspan></text>
          </g>
        ))}
        {minorLog(yC.domain()[0], yC.domain()[1]).map((v, i) => (
          <line key={"cym" + i} x1={C.x0 - 6} x2={C.x0} y1={yC(v)} y2={yC(v)} stroke="#000" strokeWidth={1.2} />
        ))}
        {panelLabel("(c)", 59.5, 358)}
        <text x={(C.x0 + C.x1) / 2} y={677.7} fontSize={23.5} textAnchor="middle">LPR ratio</text>
        <text transform={`translate(33,${(C.y0 + C.y1) / 2}) rotate(-90)`} fontSize={23.5} textAnchor="middle">
          <tspan>Δ</tspan>
          <tspan fontSize={16.5} dy={-9}>2</tspan>
          <tspan fontStyle="italic" dy={9}>ỹ</tspan>
          <tspan fontStyle="italic" fontSize={16.5} dy={4.5}>k</tspan>
          <tspan dy={-4.5}> ratio</tspan>
        </text>

        {/* legend in (c) */}
        <text x={178.8} y={538} fontSize={18} textAnchor="middle">coord. num.</text>
        {coordNums.map((n, i) => (
          <g key={"lg" + n}>
            <rect x={134.3 + i * 22.25} y={546.7} width={22.25} height={13.3} fill={TAB[n]} />
            <line x1={134.3 + (i + 0.5) * 22.25} x2={134.3 + (i + 0.5) * 22.25} y1={560} y2={570} stroke="#000" strokeWidth={1.6} />
            <text x={134.3 + (i + 0.5) * 22.25} y={596.5} fontSize={18} textAnchor="middle">{n}</text>
          </g>
        ))}
        <rect x={134.3} y={546.7} width={89} height={13.3} fill="none" stroke="#000" strokeWidth={LW} />

        {/* ---------- (d) ---------- */}
        {dPanel(D1, dx1, dPoints1, true)}
        {dPanel(D2, dx2, dPoints2, false)}
        {panelLabel("(d)", 418, 358)}
        {xLabelD((D1.x0 + D1.x1) / 2)}
        {xLabelD((D2.x0 + D2.x1) / 2)}
        <text transform={`translate(408,480) rotate(-90)`} fontSize={23.5} textAnchor="middle">
          <tspan fontStyle="italic">ỹ</tspan>
          <tspan fontSize={16.5} dy={-10}>(<tspan fontStyle="italic">m</tspan>)</tspan>
          <tspan fontSize={16.5} fontStyle="italic" dx={-28.9} dy={15}>k</tspan>
          <tspan dx={19.3} dy={-5}> [eV]</tspan>
        </text>
      </svg>
    </div>
  );
}
